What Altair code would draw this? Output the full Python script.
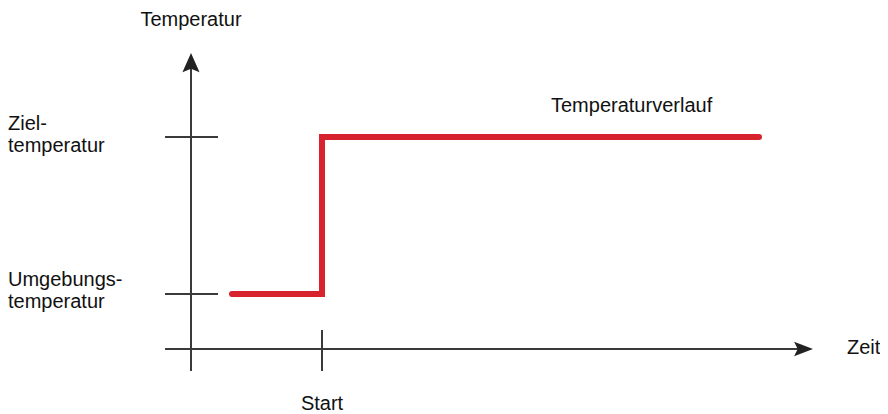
import altair as alt
import pandas as pd

# ---- schematic values (abstract units) ----
time_axis_range = [-2.6, 62.2]      # x axis line: left overhang .. arrow tip
temp_axis_range = [-2.2, 29.6]      # y axis line: bottom overhang .. arrow tip
tick_halfwidth_t = [-2.6, 2.7]      # temperature tick extent (time units)
start_tick_temp = [-2.2, 1.9]       # start tick extent (temperature units)
start_time = 13.1
ambient_temp = 5.5
target_temp = 21.2
curve_time = [4.1, 13.1, 13.1, 56.8]
curve_temp = [5.5, 5.5, 21.2, 21.2]
temp_labels = ["Ziel-\ntemperatur", "Umgebungs-\ntemperatur"]

X_DOMAIN = [-18.3, 68.9]
Y_DOMAIN = [-6.5, 34.1]
FONT = "Liberation Sans"
AX = "#3a3a3a"
RED = "#d7232e"
FS = 20

xs = alt.Scale(domain=X_DOMAIN, nice=False, zero=False)
ys = alt.Scale(domain=Y_DOMAIN, nice=False, zero=False)

# axis lines
axes = pd.DataFrame({
    "x": [time_axis_range[0], 0.0],
    "x2": [time_axis_range[1] - 1.0, 0.0],
    "y": [0.0, temp_axis_range[0]],
    "y2": [0.0, temp_axis_range[1] - 1.0],
})
axis_rules = alt.Chart(axes).mark_rule(color=AX, strokeWidth=2).encode(
    x=alt.X("x:Q", scale=xs, axis=None), x2="x2:Q",
    y=alt.Y("y:Q", scale=ys, axis=None), y2="y2:Q",
)

ticks = pd.DataFrame({
    "x": [tick_halfwidth_t[0], tick_halfwidth_t[0], start_time],
    "x2": [tick_halfwidth_t[1], tick_halfwidth_t[1], start_time],
    "y": [target_temp, ambient_temp, start_tick_temp[0]],
    "y2": [target_temp, ambient_temp, start_tick_temp[1]],
})
tick_rules = alt.Chart(ticks).mark_rule(color=AX, strokeWidth=2).encode(
    x=alt.X("x:Q", scale=xs, axis=None), x2="x2:Q",
    y=alt.Y("y:Q", scale=ys, axis=None), y2="y2:Q",
)

# arrow heads
up_path = "M0,0 L0.95,2.15 L0,1.75 L-0.95,2.15 Z"
right_path = "M0,0 L-2.1,-0.8 L-1.7,0 L-2.1,0.8 Z"
arrow_up = alt.Chart(pd.DataFrame({"x": [0.0], "y": [temp_axis_range[1]]})).mark_point(
    shape=up_path, filled=True, color="#222222", size=324, opacity=1, strokeWidth=0
).encode(x=alt.X("x:Q", scale=xs, axis=None), y=alt.Y("y:Q", scale=ys, axis=None))
arrow_right = alt.Chart(pd.DataFrame({"x": [time_axis_range[1]], "y": [0.0]})).mark_point(
    shape=right_path, filled=True, color="#222222", size=324, opacity=1, strokeWidth=0
).encode(x=alt.X("x:Q", scale=xs, axis=None), y=alt.Y("y:Q", scale=ys, axis=None))

# temperature curve
curve = pd.DataFrame({"t": curve_time, "T": curve_temp, "o": list(range(len(curve_time)))})
line = alt.Chart(curve).mark_line(
    color=RED, strokeWidth=6, strokeCap="round", strokeJoin="miter"
).encode(
    x=alt.X("t:Q", scale=xs, axis=None),
    y=alt.Y("T:Q", scale=ys, axis=None),
    order="o:Q",
)

def label(text, x, y, align="left", dx=0, dy=0):
    return alt.Chart(pd.DataFrame({"x": [x], "y": [y], "s": [text]})).mark_text(
        font=FONT, fontSize=FS, color="#111111", align=align, baseline="alphabetic",
        dx=dx, dy=dy,
    ).encode(x=alt.X("x:Q", scale=xs, axis=None), y=alt.Y("y:Q", scale=ys, axis=None), text="s:N")

def left_label(lines, y, dy1, dy2):
    l1, l2 = lines.split("\n")
    return [label(l1, X_DOMAIN[0], y, dy=dy1), label(l2, X_DOMAIN[0], y, dy=dy2)]

texts = [
    label("Temperatur", 0.0, temp_axis_range[1], align="center", dy=-27),
    *left_label(temp_labels[0], target_temp, -7, 15),
    *left_label(temp_labels[1], ambient_temp, -8, 14),
    label("Temperaturverlauf", 36.0, target_temp, dy=-25),
    label("Zeit", time_axis_range[1], 0.0, dx=34, dy=5),
    label("Start", start_time, 0.0, align="center", dy=61),
]

chart = alt.layer(axis_rules, tick_rules, line, arrow_up, arrow_right, *texts).properties(
    width=872, height=406, autosize=alt.AutoSizeParams(type="none"), padding=0,
).configure_view(stroke=None)

chart.save("out.html", embed_options={"renderer": "svg", "actions": False})
